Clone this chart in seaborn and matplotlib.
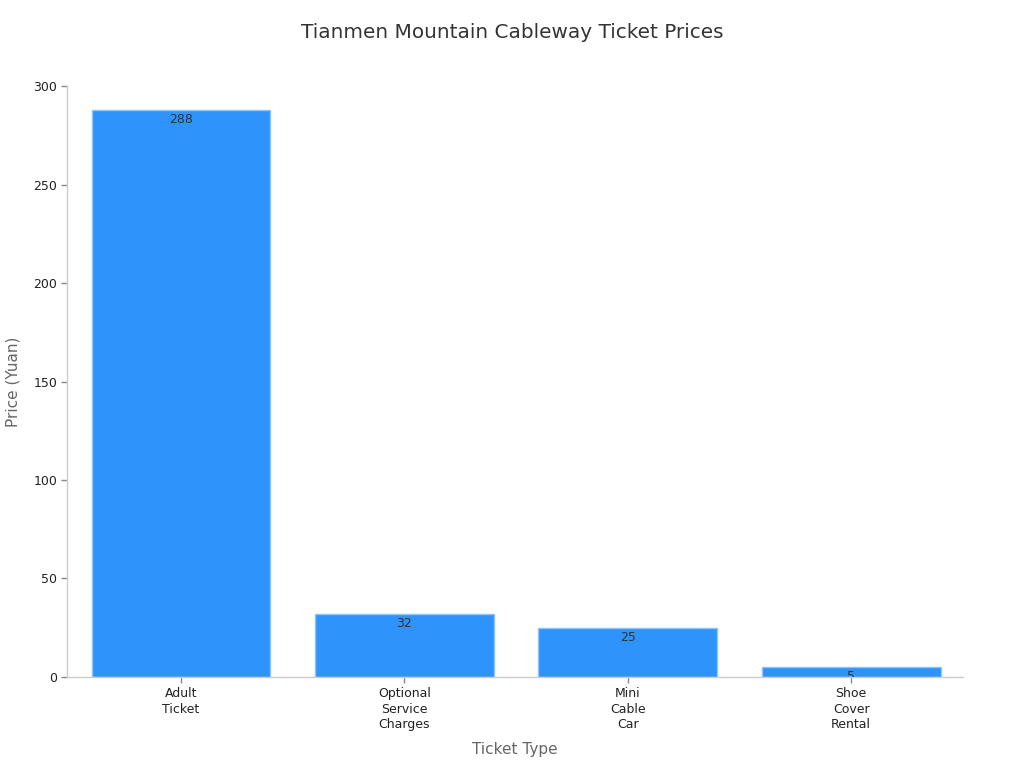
import matplotlib
matplotlib.use("Agg")
import matplotlib.pyplot as plt
import seaborn as sns
import pandas as pd

categories = ["Adult\nTicket", "Optional\nService\nCharges", "Mini\nCable\nCar", "Shoe\nCover\nRental"]
prices = [288, 32, 25, 5]
value_labels = ["288", "32", "25", "5"]

sns.set_theme(style="white")
plt.rcParams['font.family'] = ['DejaVu Sans']

df = pd.DataFrame({"Ticket Type": categories, "Price (Yuan)": prices})

fig = plt.figure(figsize=(10.24, 7.68), dpi=100)
ax = fig.add_axes([0.0654, 0.1185, 0.8750, 0.7695])

sns.barplot(data=df, x="Ticket Type", y="Price (Yuan)", color="#2E93FA",
            width=0.8, edgecolor="#8cc4f7", linewidth=1, saturation=1, ax=ax)

ax.set_xlim(-0.51, 3.5)
ax.set_ylim(0, 300)
ax.set_yticks([0, 50, 100, 150, 200, 250, 300])

bars = list(ax.patches)
for i, (v, lab) in enumerate(zip(prices, value_labels)):
    t = ax.text(i, v - 5, lab, ha="center", va="center", fontsize=9,
                color="#333333", clip_on=True)
    t.set_clip_path(bars[i])

for s in ["top", "right"]:
    ax.spines[s].set_visible(False)
for s in ["left", "bottom"]:
    ax.spines[s].set_color("#cccccc")
    ax.spines[s].set_linewidth(1)

ax.tick_params(axis="both", which="both", length=4, width=1, color="#888888",
               labelsize=9, labelcolor="#222222", bottom=True, left=True, pad=3)
for lbl in ax.get_xticklabels():
    lbl.set_linespacing(1.28)

ax.set_xlabel("Ticket Type", fontsize=11, color="#666666", labelpad=8)
ax.set_ylabel("Price (Yuan)", fontsize=11, color="#666666", labelpad=9)

fig.suptitle("Tianmen Mountain Cableway Ticket Prices", fontsize=14.4,
             color="#333333", x=0.5, y=0.97)

fig.savefig("out.png", dpi=100)
